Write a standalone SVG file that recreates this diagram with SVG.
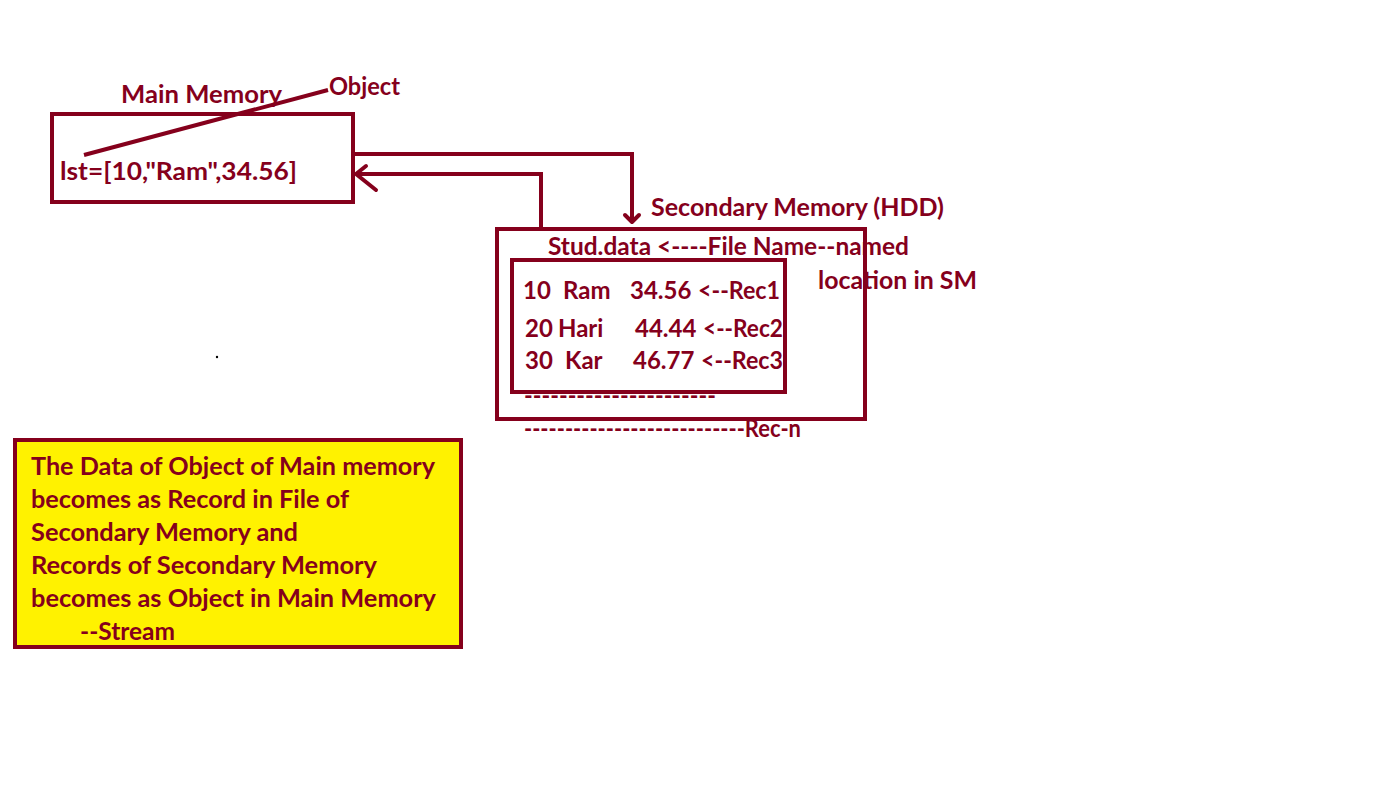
<svg xmlns="http://www.w3.org/2000/svg" width="1398" height="800" viewBox="0 0 1398 800">
<style>
.t{font-family:Lato,"Open Sans","Liberation Sans",sans-serif;font-weight:bold;font-size:24px;fill:#85001c}
.b{fill:none;stroke:#85001c;stroke-width:4}
.c{fill:none;stroke:#85001c;stroke-width:4;stroke-linejoin:miter}
.h{fill:none;stroke:#85001c;stroke-width:4;stroke-linecap:round;stroke-linejoin:round}
</style>
<rect width="1398" height="800" fill="#fff"/>
<g id="main-memory">
<rect class="b" x="52" y="114" width="301" height="88"/>
<text class="t" x="121" y="103" textLength="161" lengthAdjust="spacingAndGlyphs">Main Memory</text>
<text class="t" x="60" y="180" textLength="237" lengthAdjust="spacingAndGlyphs">lst=[10,"Ram",34.56]</text>
</g>
<g id="object-label">
<line x1="84" y1="155" x2="328" y2="90" stroke="#85001c" stroke-width="4"/>
<text class="t" x="329" y="95" textLength="71" lengthAdjust="spacingAndGlyphs">Object</text>
</g>
<g id="secondary-memory">
<rect class="b" x="497" y="229" width="368" height="190"/>
<text class="t" x="651" y="216" textLength="293" lengthAdjust="spacingAndGlyphs">Secondary Memory (HDD)</text>
<text class="t" x="548" y="255" textLength="361" lengthAdjust="spacingAndGlyphs">Stud.data &lt;----File Name--named</text>
<text class="t" x="818" y="289" textLength="159" lengthAdjust="spacingAndGlyphs">location in SM</text>
<text class="t" x="524" y="404" textLength="192" lengthAdjust="spacingAndGlyphs">----------------------</text>
<text class="t" x="524" y="437" textLength="277" lengthAdjust="spacingAndGlyphs">---------------------------Rec-n</text>
</g>
<g id="file-records">
<rect class="b" x="512" y="260" width="273" height="132"/>
<text class="t" x="523" y="299">10</text>
<text class="t" x="563" y="299">Ram</text>
<text class="t" x="630" y="299">34.56</text>
<text class="t" x="698" y="299" textLength="82" lengthAdjust="spacingAndGlyphs">&lt;--Rec1</text>
<text class="t" x="525" y="337">20</text>
<text class="t" x="558" y="337">Hari</text>
<text class="t" x="635" y="337">44.44</text>
<text class="t" x="703" y="337" textLength="80" lengthAdjust="spacingAndGlyphs">&lt;--Rec2</text>
<text class="t" x="525" y="369">30</text>
<text class="t" x="565" y="369">Kar</text>
<text class="t" x="633" y="369">46.77</text>
<text class="t" x="701" y="369" textLength="82" lengthAdjust="spacingAndGlyphs">&lt;--Rec3</text>
</g>
<g id="connectors">
<path class="c" d="M353,154 H632 V222"/>
<path class="h" d="M625,215 L632,222 L639,215"/>
<path class="c" d="M541,228 V174 H356"/>
<path class="h" d="M366,166 L356,174 L376,190"/>
</g>
<circle cx="217" cy="357" r="1.2" fill="#000"/>
<g id="note">
<rect x="15" y="440" width="446" height="207" fill="#fff200" stroke="#85001c" stroke-width="4"/>
<text class="t" x="31" y="475" textLength="404" lengthAdjust="spacingAndGlyphs">The Data of Object of Main memory</text>
<text class="t" x="31" y="508" textLength="318" lengthAdjust="spacingAndGlyphs">becomes as Record in File of</text>
<text class="t" x="31" y="541" textLength="267" lengthAdjust="spacingAndGlyphs">Secondary Memory and</text>
<text class="t" x="31" y="574" textLength="346" lengthAdjust="spacingAndGlyphs">Records of Secondary Memory</text>
<text class="t" x="31" y="607" textLength="405" lengthAdjust="spacingAndGlyphs">becomes as Object in Main Memory</text>
<text class="t" x="80" y="640" textLength="95" lengthAdjust="spacingAndGlyphs">--Stream</text>
</g>
</svg>
